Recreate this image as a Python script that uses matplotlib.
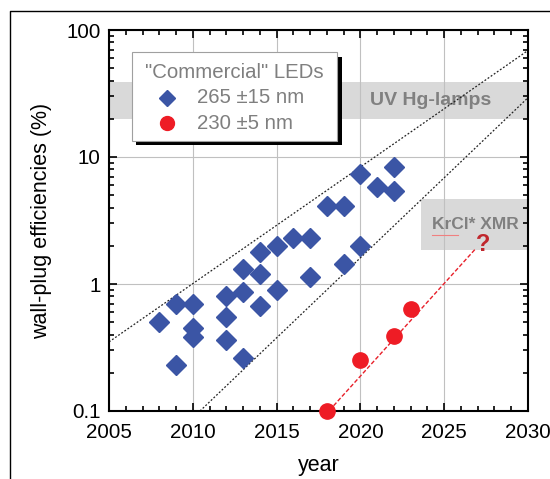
import matplotlib
matplotlib.use("Agg")
import matplotlib.pyplot as plt
import numpy as np
from matplotlib.patches import Rectangle
from matplotlib.lines import Line2D
from matplotlib.ticker import FixedLocator, LogLocator, NullFormatter

plt.rcParams['font.family'] = ['Liberation Sans', 'DejaVu Sans']

# Data: 265 +/- 15 nm LEDs
blue_years = [2008, 2009, 2009, 2010, 2010, 2010, 2012, 2012, 2012, 2013, 2013, 2013,
              2014, 2014, 2014, 2015, 2015, 2016, 2017, 2017, 2018, 2019, 2019,
              2020, 2020, 2021, 2022, 2022]
blue_eff = [0.50, 0.70, 0.23, 0.70, 0.45, 0.38, 0.80, 0.55, 0.36, 1.31, 0.87, 0.26,
            1.80, 1.20, 0.67, 2.0, 0.90, 2.3, 2.3, 1.13, 4.1, 4.1, 1.44,
            2.0, 7.4, 5.8, 8.3, 5.35]
# Data: 230 +/- 5 nm LEDs
red_years = [2018, 2020, 2022, 2023]
red_eff = [0.10, 0.25, 0.39, 0.64]
# trend line for 230 nm
red_trend_years = [2017.9, 2026.85]
red_trend_eff = [0.093, 1.88]
# envelope lines (dotted)
upper_years = [2005, 2030]
upper_eff = [0.35, 69.0]
lower_years = [2010.43, 2030]
lower_eff = [0.10, 29.3]
# reference bands
hg_band = (20, 39)
krcl_band_years = (2023.6, 2030)
krcl_band = (1.85, 4.7)

legend_title = '"Commercial" LEDs'
legend_labels = ['265 \u00b115 nm', '230 \u00b15 nm']

x_ticks = [2005, 2010, 2015, 2020, 2025, 2030]
y_ticks = [0.1, 1, 10, 100]
y_ticklabels = ["0.1", "1", "10", "100"]

blue = '#3b55a5'
red = '#ee1c25'
gray_text = '#7f7f7f'

fig = plt.figure(figsize=(5.5, 4.79), dpi=100)
ax = fig.add_axes([109/550, 1-411/479, (528-109)/550, (411-30)/479])
ax.set_xlim(2005, 2030)
ax.set_yscale('log')
ax.set_ylim(0.1, 100)

gray_band = '#d9d9d9'
ax.axhspan(hg_band[0], hg_band[1], color=gray_band, lw=0, zorder=0)
ax.fill_between(krcl_band_years, krcl_band[0], krcl_band[1], color=gray_band, lw=0, zorder=0)

ax.grid(True, which='major', color='#c0c0c0', lw=0.8, zorder=0.5)
ax.set_axisbelow(True)

ax.text(2024.2, 27.9, "UV Hg-lamps", fontsize=14, fontweight='bold', color='#808080',
        ha='center', va='center', zorder=1)
ax.text(2026.85, 2.92, "KrCl* XMR", fontsize=12.5, fontweight='bold', color='#808080',
        ha='center', va='center', zorder=1)
# red spell-check underline under "KrCl"
ax.plot([2024.25, 2025.8], [2.43, 2.43], color='#f08080', lw=0.8, zorder=1)

ax.plot(upper_years, upper_eff, ls=(0, (1.5, 1.5)), color='#222222', lw=0.9, zorder=2)
ax.plot(lower_years, lower_eff, ls=(0, (1.5, 1.5)), color='#222222', lw=0.9, zorder=2)
ax.plot(red_trend_years, red_trend_eff, ls=(0, (3, 1.5)), color='#e8202a', lw=1.0, zorder=2)

ax.plot(blue_years, blue_eff, 'D', color=blue, ms=10, mec=blue, zorder=3, clip_on=False)
ax.plot(red_years, red_eff, 'o', color=red, ms=11, zorder=3, clip_on=False)

ax.text(2027.3, 2.05, "?", fontsize=17, fontweight='bold', color='#c0272d',
        ha='center', va='center', zorder=4)

# axes styling
ax.set_xticks(x_ticks)
ax.xaxis.set_minor_locator(FixedLocator(np.arange(2005, 2031, 1)))
ax.set_yticks(y_ticks)
ax.set_yticklabels(y_ticklabels)
ax.yaxis.set_minor_locator(LogLocator(base=10, subs=np.arange(2, 10)))
ax.yaxis.set_minor_formatter(NullFormatter())
ax.tick_params(which='both', direction='in', top=True, right=True, labelsize=14.8,
               width=1.2)
ax.tick_params(axis='x', which='major', pad=9)
ax.tick_params(axis='y', which='major', pad=6)
ax.tick_params(which='major', length=6)
ax.tick_params(which='minor', length=3.5)
for s in ax.spines.values():
    s.set_linewidth(1.5)

ax.set_xlabel("year", fontsize=15.5, labelpad=9)
ax.set_ylabel("wall-plug efficiencies (%)", fontsize=15.5, labelpad=10)

# manual legend (box with solid black shadow)
bx0, bx1, by0, by1 = 0.054, 0.5446, 0.7094, 0.9415
offx, offy = 0.0107, 0.0118
ax.add_artist(Rectangle((bx0 + offx, by0 - offy), bx1 - bx0, by1 - by0,
                        transform=ax.transAxes, facecolor='black', edgecolor='none',
                        zorder=5, clip_on=False))
ax.add_artist(Rectangle((bx0, by0), bx1 - bx0, by1 - by0, transform=ax.transAxes,
                        facecolor='white', edgecolor='#a0a0a0', lw=0.8,
                        zorder=6, clip_on=False))
ax.text((bx0 + bx1) / 2, 0.889, legend_title, transform=ax.transAxes, fontsize=14.7,
        color=gray_text, ha='center', va='center', zorder=7)
ax.plot([0.1377], [0.8223], 'D', color=blue, ms=8.5, transform=ax.transAxes,
        zorder=7, clip_on=False)
ax.plot([0.1377], [0.7553], 'o', color=red, ms=10, transform=ax.transAxes,
        zorder=7, clip_on=False)
ax.text(0.2093, 0.8223, legend_labels[0], transform=ax.transAxes, fontsize=14.7,
        color=gray_text, ha='left', va='center', zorder=7)
ax.text(0.2093, 0.7553, legend_labels[1], transform=ax.transAxes, fontsize=14.7,
        color=gray_text, ha='left', va='center', zorder=7)

# outer frame lines
fig.add_artist(Line2D([10/550, 10/550, 1], [0, 1-11/479, 1-11/479],
                      transform=fig.transFigure, color='black', lw=1.0))

fig.savefig("out.png", dpi=100)
